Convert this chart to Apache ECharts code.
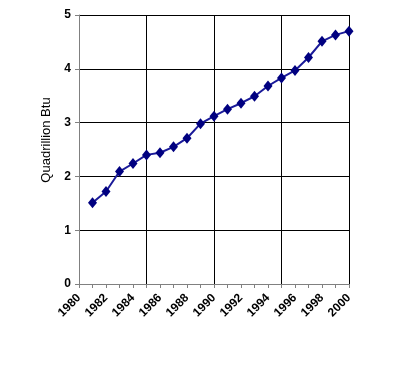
<!DOCTYPE html>
<html>
<head>
<meta charset="utf-8">
<script src="https://cdn.jsdelivr.net/npm/echarts@6/dist/echarts.min.js"></script>
<style>html,body{margin:0;padding:0;background:#fff}#c{width:400px;height:385px}</style>
</head>
<body>
<div id="c"></div>
<script>
const years = [1981,1982,1983,1984,1985,1986,1987,1988,1989,1990,1991,1992,1993,1994,1995,1996,1997,1998,1999,2000];
const values = [1.51,1.72,2.09,2.24,2.40,2.44,2.55,2.71,2.98,3.12,3.25,3.36,3.49,3.68,3.83,3.97,4.21,4.51,4.63,4.70];
const yTicks = [0,1,2,3,4,5];
const yTitle = 'Quadrillion Btu';

const chart = echarts.init(document.getElementById('c'), null, {renderer:'canvas'});
const font = 'Liberation Sans, Arial, sans-serif';
chart.setOption({
  animation: false,
  backgroundColor: '#fff',
  grid: {left: 79, right: 51, top: 15, bottom: 101},
  graphic: [{
    type: 'text', x: 46, y: 140, rotation: Math.PI / 2,
    style: {text: yTitle, fill: '#000', font: '13px ' + font, textAlign: 'center', textVerticalAlign: 'middle'}
  }],
  xAxis: [{
    type: 'value', min: 1980, max: 2000, interval: 2, z: 3,
    axisLine: {show: true, onZero: false, lineStyle: {color: '#808080', width: 1}},
    axisTick: {show: true, length: 4, lineStyle: {color: '#808080'}},
    minorTick: {show: true, splitNumber: 2, length: 4, lineStyle: {color: '#808080'}},
    splitLine: {show: false},
    axisLabel: {rotate: 45, margin: 12, padding: [0, 0, 0, 0], color: '#000', fontFamily: font, fontSize: 12, fontWeight: 'bold', formatter: v => String(v)}
  },{
    type: 'value', min: 1980, max: 2000, interval: 5, position: 'bottom', z: 0,
    axisLine: {show: false}, axisTick: {show: false}, axisLabel: {show: false},
    splitLine: {show: true, lineStyle: {color: '#000', width: 1}}
  }],
  yAxis: {
    type: 'value', min: yTicks[0], max: yTicks[yTicks.length-1], interval: 1, z: 2,
    axisLine: {show: true, lineStyle: {color: '#808080', width: 1}},
    axisTick: {show: true, length: 4, lineStyle: {color: '#808080'}},
    splitLine: {show: true, lineStyle: {color: '#000', width: 1}},
    axisLabel: {margin: 8, color: '#000', fontFamily: font, fontSize: 12, fontWeight: 'bold'}
  },
  series: [{
    type: 'line', xAxisIndex: 0, z: 5,
    data: years.map((y, i) => [y, values[i]]),
    symbol: 'diamond', symbolSize: [9, 11],
    lineStyle: {color: '#1a1a99', width: 2},
    itemStyle: {color: '#000080'}
  }]
});
</script>
</body>
</html>
